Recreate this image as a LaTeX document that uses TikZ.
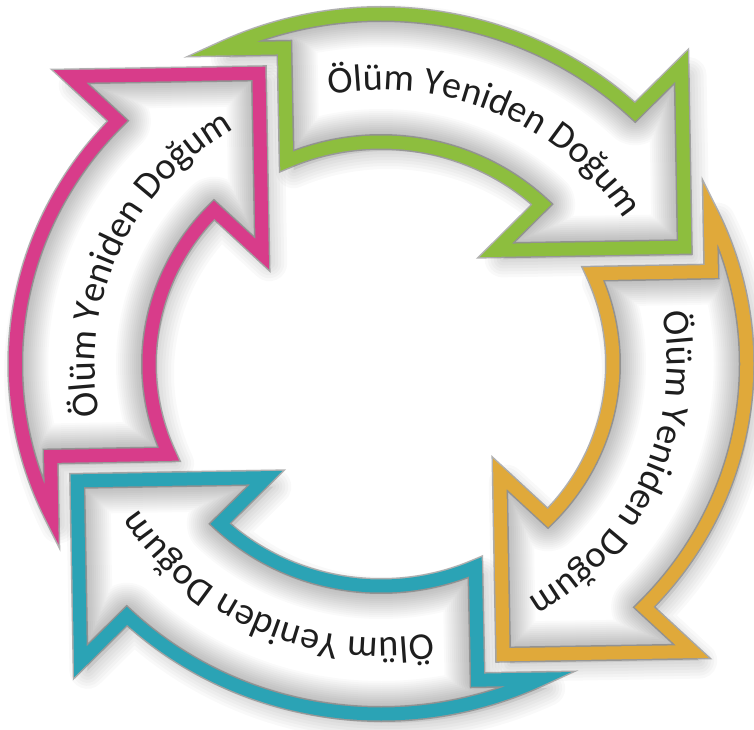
\documentclass[tikz,border=0pt]{standalone}
\usepackage{fontspec}
\newfontfamily\carl{Carlito}
\usetikzlibrary{decorations.text}
\definecolor{cgreen}{HTML}{8DBE3E}
\definecolor{corange}{HTML}{E0A93A}
\definecolor{cteal}{HTML}{2BA3B5}
\definecolor{cmagenta}{HTML}{D83C8A}
\definecolor{textc}{HTML}{1E1E1E}
\newcommand\arrowshape{(115.8:350pt) arc[start angle=115.8, end angle=46, radius=350pt] -- (46:414pt) -- (21.9:313.3pt) -- (46:158pt) -- (46:222pt) arc[start angle=46, end angle=114, radius=222pt] -- (106.3:329.4pt) -- cycle}
\begin{document}
\begin{tikzpicture}
\useasboundingbox (0,0) rectangle (754pt,729pt);
\fill[white] (0,0) rectangle (754pt,729pt);
% shadows
\foreach \k in {0,1,2,3}{
 \begin{scope}[shift={(388pt,356pt)}, xscale=1.045, rotate=-90*\k]
  \fill[black,opacity=0.08,line join=round] \arrowshape;
  \foreach \w in {6,12,...,36}{
   \draw[black,opacity=0.025,line width=\w pt,line join=round] \arrowshape;}
 \end{scope}}
% arrows
\foreach \k/\col in {0/cgreen,1/corange,2/cteal,3/cmagenta}{
 \begin{scope}[shift={(381pt,365pt)}, xscale=1.045, rotate=-90*\k]
  \fill[white] \arrowshape;
  \begin{scope}
   \clip \arrowshape;
   \foreach \w in {14,18,...,66}{
    \draw[black,opacity=0.018,line width=\w pt,line join=round] \arrowshape;}
  \end{scope}
  \draw[black!60,opacity=0.5, line width=16pt, line join=miter, miter limit=10] \arrowshape;
  \draw[\col, line width=13pt, line join=miter, miter limit=10] \arrowshape;
 \end{scope}}
% texts
\foreach \c in {66,-24,-114,-204}{
 \path[shift={(381pt,365pt)}, decorate, decoration={text along path, text align=center, text={|\carl\fontsize{38}{40}\selectfont\color{textc}|Ölüm Yeniden Doğum}}] ({\c+42}:286.3pt and 274pt) arc[start angle=\c+42, end angle=\c-42, x radius=286.3pt, y radius=274pt];
}
\end{tikzpicture}
\end{document}
